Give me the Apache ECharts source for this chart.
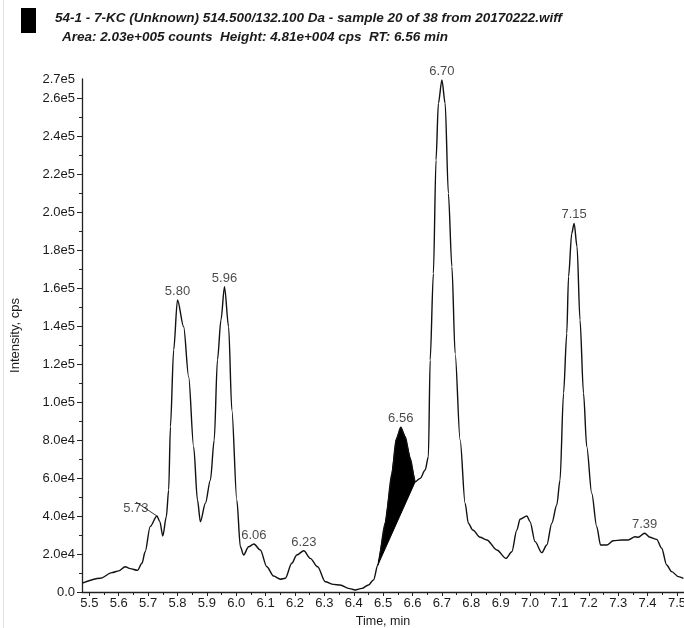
<!DOCTYPE html>
<html>
<head>
<meta charset="utf-8">
<script src="https://cdn.jsdelivr.net/npm/echarts@6/dist/echarts.min.js"></script>
<style>
  html, body { margin: 0; padding: 0; background: #fff; }
  #chart { width: 684px; height: 628px; }
</style>
</head>
<body>
<div id="chart"></div>
<script>
// Extracted ion chromatogram, 514.500/132.100 Da
const titleLine1 = '54-1 - 7-KC (Unknown) 514.500/132.100 Da - sample 20 of 38 from 20170222.wiff';
const titleLine2 = 'Area: 2.03e+005 counts  Height: 4.81e+004 cps  RT: 6.56 min';

// retention time (min)
const times = [
  5.476, 5.537, 5.577, 5.600, 5.622, 5.639, 5.664, 5.679, 5.690, 5.707,
  5.730, 5.740, 5.750, 5.762, 5.770, 5.776, 5.787, 5.800, 5.821, 5.838,
  5.855, 5.868, 5.878, 5.895, 5.912, 5.925, 5.936, 5.948, 5.960, 5.974,
  5.985, 6.002, 6.014, 6.025, 6.042, 6.060, 6.082, 6.104, 6.127, 6.150,
  6.167, 6.189, 6.206, 6.230, 6.252, 6.277, 6.303, 6.331, 6.354, 6.382,
  6.405, 6.428, 6.450, 6.467, 6.482, 6.507, 6.530, 6.544, 6.560, 6.575,
  6.592, 6.609, 6.626, 6.643, 6.654, 6.660, 6.671, 6.680, 6.688, 6.700,
  6.711, 6.722, 6.734, 6.745, 6.762, 6.779, 6.790, 6.805, 6.830, 6.853,
  6.887, 6.918, 6.938, 6.955, 6.966, 6.989, 7.000, 7.017, 7.040, 7.057,
  7.074, 7.091, 7.102, 7.114, 7.125, 7.131, 7.142, 7.150, 7.160, 7.170,
  7.182, 7.193, 7.210, 7.227, 7.240, 7.261, 7.283, 7.312, 7.334, 7.357,
  7.368, 7.390, 7.408, 7.431, 7.448, 7.465, 7.482, 7.505, 7.522
];

// intensity (cps)
const intensity = [
  4700, 7200, 10200, 11100, 13300, 12300, 11400, 15100, 21200, 34400,
  40000, 37000, 29500, 39600, 53700, 87000, 127400, 153700, 139600, 113300,
  76500, 48400, 37000, 46700, 58900, 80000, 122100, 143200, 160700, 139600,
  95800, 48400, 23800, 19500, 23800, 25300, 22100, 13300, 8400, 6700,
  7200, 15100, 19500, 21700, 17700, 13300, 5400, 4000, 3700, 1900,
  1050, 1900, 3700, 6300, 14200, 36200, 62500, 80000, 86700, 81700,
  70400, 58000, 59800, 64200, 71200, 122100, 167700, 227400, 257200, 269500,
  257200, 209800, 171200, 125600, 80000, 46700, 36200, 32600, 28800, 27400,
  22100, 17700, 21200, 32600, 38300, 40000, 37000, 26500, 20700, 24700,
  36200, 45800, 58900, 104600, 136100, 166000, 188800, 194000, 181700, 143200,
  104600, 76500, 51900, 34400, 24700, 24700, 27000, 27400, 27400, 29100,
  28800, 30900, 28800, 27700, 23000, 14200, 10700, 8100, 7200
];

// labelled peak apexes (min)
const peakTimes = [5.73, 5.80, 5.96, 6.06, 6.23, 6.56, 6.70, 7.15, 7.39];

// integrated peak: start and end of the baseline (min)
const integrationStart = 6.482;
const integrationEnd = 6.609;

// axis ticks
const xTickValues = [5.5, 5.6, 5.7, 5.8, 5.9, 6.0, 6.1, 6.2, 6.3, 6.4, 6.5,
                     6.6, 6.7, 6.8, 6.9, 7.0, 7.1, 7.2, 7.3, 7.4, 7.5];
const yTickValues = [0, 20000, 40000, 60000, 80000, 100000, 120000, 140000,
                     160000, 180000, 200000, 220000, 240000, 260000, 270000];
const yTickLabels = ['0.0', '2.0e4', '4.0e4', '6.0e4', '8.0e4', '1.0e5', '1.2e5', '1.4e5',
                     '1.6e5', '1.8e5', '2.0e5', '2.2e5', '2.4e5', '2.6e5', '2.7e5'];

const xMin = 5.475, xMax = 7.524;
const yMin = 0, yMax = 270000;

// ---- derived structures ----
const curve = times.map((t, i) => [t, intensity[i]]);
const valueAt = t => intensity[times.findIndex(x => Math.abs(x - t) < 1e-9)];

// minor ticks half-way between the labelled ones
const xMinor = [];
for (let i = 0; i < xTickValues.length - 1; i++) {
  xMinor.push(+((xTickValues[i] + xTickValues[i + 1]) / 2).toFixed(3));
}
const yMajor = yTickValues.slice(0, yTickValues.length - 1);
const yMinor = [];
for (let i = 0; i < yMajor.length - 1; i++) {
  yMinor.push((yMajor[i] + yMajor[i + 1]) / 2);
}

const leftLabelPeak = 5.73;
const peakPoints = peakTimes.filter(t => t !== leftLabelPeak).map(t => [t, valueAt(t)]);
const leftPeakPoint = [[leftLabelPeak, valueAt(leftLabelPeak)]];

const FONT = "'Liberation Sans', Arial, sans-serif";
const INK = '#1a1a1a';

const chart = echarts.init(document.getElementById('chart'), null, { renderer: 'canvas' });

const axisLineStyle = { color: '#222', width: 1.3 };
const titleStyle = { fontFamily: FONT, fontSize: 13.5, fontWeight: 'bold', fontStyle: 'italic', color: INK };
const peakLabel = {
  show: true, position: 'top', distance: 2,
  formatter: p => p.value[0].toFixed(2),
  fontFamily: FONT, fontSize: 13, color: INK
};

const option = {
  animation: false,
  backgroundColor: '#fff',
  title: [
    { text: titleLine1, left: 50, top: 6, textStyle: titleStyle },
    { text: titleLine2, left: 57, top: 25, textStyle: titleStyle }
  ],
  graphic: [
    { type: 'rect', left: 21, top: 8, shape: { width: 15, height: 25 }, style: { fill: '#000' } },
    { type: 'rect', left: 3, top: 0, shape: { width: 1, height: 628 }, style: { fill: '#e4e4e4' } }
  ],
  grid: { left: 82, right: 0, top: 79, bottom: 36, outerBoundsMode: 'none', containLabel: false },
  xAxis: [
    {
      type: 'value', min: xMin, max: xMax,
      name: 'Time, min', nameLocation: 'middle', nameGap: 22,
      nameTextStyle: { fontFamily: FONT, fontSize: 12.5, color: INK },
      axisLine: { show: true, onZero: false, lineStyle: axisLineStyle },
      axisTick: { show: true, customValues: xTickValues, length: 4, lineStyle: { color: '#222' } },
      axisLabel: {
        customValues: xTickValues, formatter: v => v.toFixed(1),
        margin: 5, fontFamily: FONT, fontSize: 13, color: INK
      },
      splitLine: { show: false }
    },
    {
      type: 'value', min: xMin, max: xMax, position: 'bottom',
      axisLine: { show: false },
      axisTick: { show: true, customValues: xMinor, length: 3, lineStyle: { color: '#222' } },
      axisLabel: { show: false },
      splitLine: { show: false }
    }
  ],
  yAxis: [
    {
      type: 'value', min: yMin, max: yMax,
      name: 'Intensity, cps', nameLocation: 'middle', nameRotate: 90, nameGap: 60,
      nameTextStyle: { fontFamily: FONT, fontSize: 13, color: INK },
      axisLine: { show: true, onZero: false, lineStyle: axisLineStyle },
      axisTick: { show: true, customValues: yMajor, length: 5, lineStyle: { color: '#222' } },
      axisLabel: {
        customValues: yTickValues,
        formatter: v => {
          const i = yTickValues.findIndex(x => Math.abs(x - v) < 1e-6);
          return i >= 0 ? yTickLabels[i] : '';
        },
        margin: 7, fontFamily: FONT, fontSize: 13, color: INK
      },
      splitLine: { show: false }
    },
    {
      type: 'value', min: yMin, max: yMax, position: 'left',
      axisLine: { show: false },
      axisTick: { show: true, customValues: yMinor, length: 3, lineStyle: { color: '#222' } },
      axisLabel: { show: false },
      splitLine: { show: false }
    }
  ],
  series: [
    {
      // integrated area between the trace and the straight baseline
      type: 'custom',
      xAxisIndex: 0, yAxisIndex: 0,
      data: [[integrationStart, valueAt(integrationStart)]],
      silent: true,
      z: 2,
      renderItem: (params, api) => {
        const pts = [];
        for (let i = 0; i < times.length; i++) {
          if (times[i] >= integrationStart - 1e-9 && times[i] <= integrationEnd + 1e-9) {
            pts.push(api.coord([times[i], intensity[i]]));
          }
        }
        return {
          type: 'polygon',
          shape: { points: pts, smooth: 0 },
          style: { fill: '#000', stroke: '#000', lineWidth: 1 }
        };
      }
    },
    {
      type: 'line',
      xAxisIndex: 0, yAxisIndex: 0,
      data: curve,
      showSymbol: false,
      symbol: 'none',
      smooth: 0.3,
      smoothMonotone: 'x',
      z: 3,
      lineStyle: { color: '#111', width: 1.4 }
    },
    {
      type: 'scatter',
      xAxisIndex: 0, yAxisIndex: 0,
      data: peakPoints,
      symbolSize: 0,
      silent: true,
      z: 4,
      label: peakLabel
    },
    {
      type: 'scatter',
      xAxisIndex: 0, yAxisIndex: 0,
      data: leftPeakPoint,
      symbolSize: 0,
      silent: true,
      z: 4,
      label: peakLabel,
      labelLayout: { dx: -21, dy: 1 },
      labelLine: { show: true, lineStyle: { color: '#333', width: 1 } }
    }
  ]
};

chart.setOption(option);
</script>
</body>
</html>
